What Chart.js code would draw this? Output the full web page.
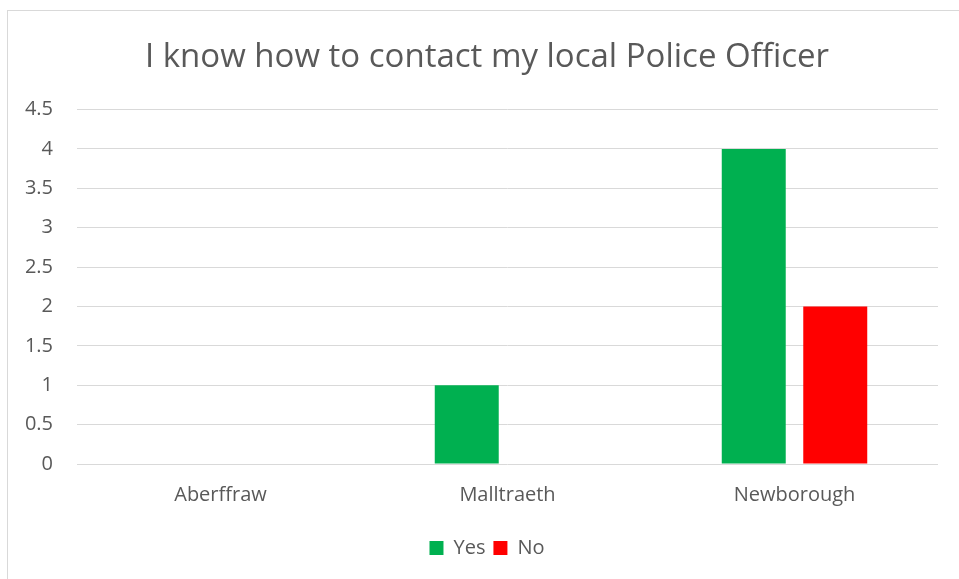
<!DOCTYPE html>
<html>
<head>
<meta charset="utf-8">
<script src="https://cdn.jsdelivr.net/npm/chart.js@4"></script>
<style>
  html, body { margin: 0; padding: 0; background: #fff; overflow: hidden; }
  #frame { position: absolute; left: 7px; top: 10px; width: 1000px; height: 1000px; border: 1px solid #d9d9d9; }
  #wrap { position: absolute; left: 7px; top: 10px; width: 960px; height: 569px; }
</style>
</head>
<body>
<div id="frame"></div>
<div id="wrap"><canvas id="chart"></canvas></div>
<script>
const categories = ['Aberffraw', 'Malltraeth', 'Newborough'];
const yesValues = [0, 1, 4];
const noValues = [0, 0, 2];
const yTicks = [0, 0.5, 1, 1.5, 2, 2.5, 3, 3.5, 4, 4.5];

const textColor = '#595959';
const font = 'Open Sans';

new Chart(document.getElementById('chart').getContext('2d'), {
  type: 'bar',
  data: {
    labels: categories,
    datasets: [
      { label: 'Yes', data: yesValues, backgroundColor: '#00B050' },
      { label: 'No', data: noValues, backgroundColor: '#FF0000' }
    ]
  },
  options: {
    responsive: true,
    maintainAspectRatio: false,
    animation: false,
    categoryPercentage: 0.568,
    barPercentage: 0.785,
    layout: { padding: { left: 0, right: 0, top: 0, bottom: 11 } },
    plugins: {
      title: {
        display: true,
        text: 'I know how to contact my local Police Officer',
        color: textColor,
        font: { family: font, size: 33, weight: 'normal', lineHeight: 1.2 },
        padding: { top: 28, bottom: 32 }
      },
      legend: {
        position: 'bottom',
        labels: {
          color: textColor,
          font: { family: font, size: 20 },
          boxWidth: 14,
          boxHeight: 14,
          padding: 8
        }
      },
      tooltip: { enabled: false }
    },
    scales: {
      x: {
        grid: { display: false, drawTicks: false },
        border: { display: false },
        ticks: { color: textColor, font: { family: font, size: 20 }, padding: 19 },
        afterFit: s => { s.height = 66; }
      },
      y: {
        min: 0,
        max: 4.5,
        afterBuildTicks: s => { s.ticks = yTicks.map(v => ({ value: v })); },
        grid: { color: '#d9d9d9', lineWidth: 1, drawTicks: false },
        border: { display: false },
        ticks: {
          color: textColor,
          font: { family: font, size: 20 },
          padding: 24,
          callback: v => String(v)
        },
        afterFit: s => { s.width = 70; }
      },
      // empty right-hand strip so the plot ends where the reference does
      yRight: {
        position: 'right',
        grid: { display: false, drawTicks: false },
        border: { display: false },
        ticks: { display: false },
        afterFit: s => { s.width = 29; }
      }
    }
  }
});
</script>
</body>
</html>
